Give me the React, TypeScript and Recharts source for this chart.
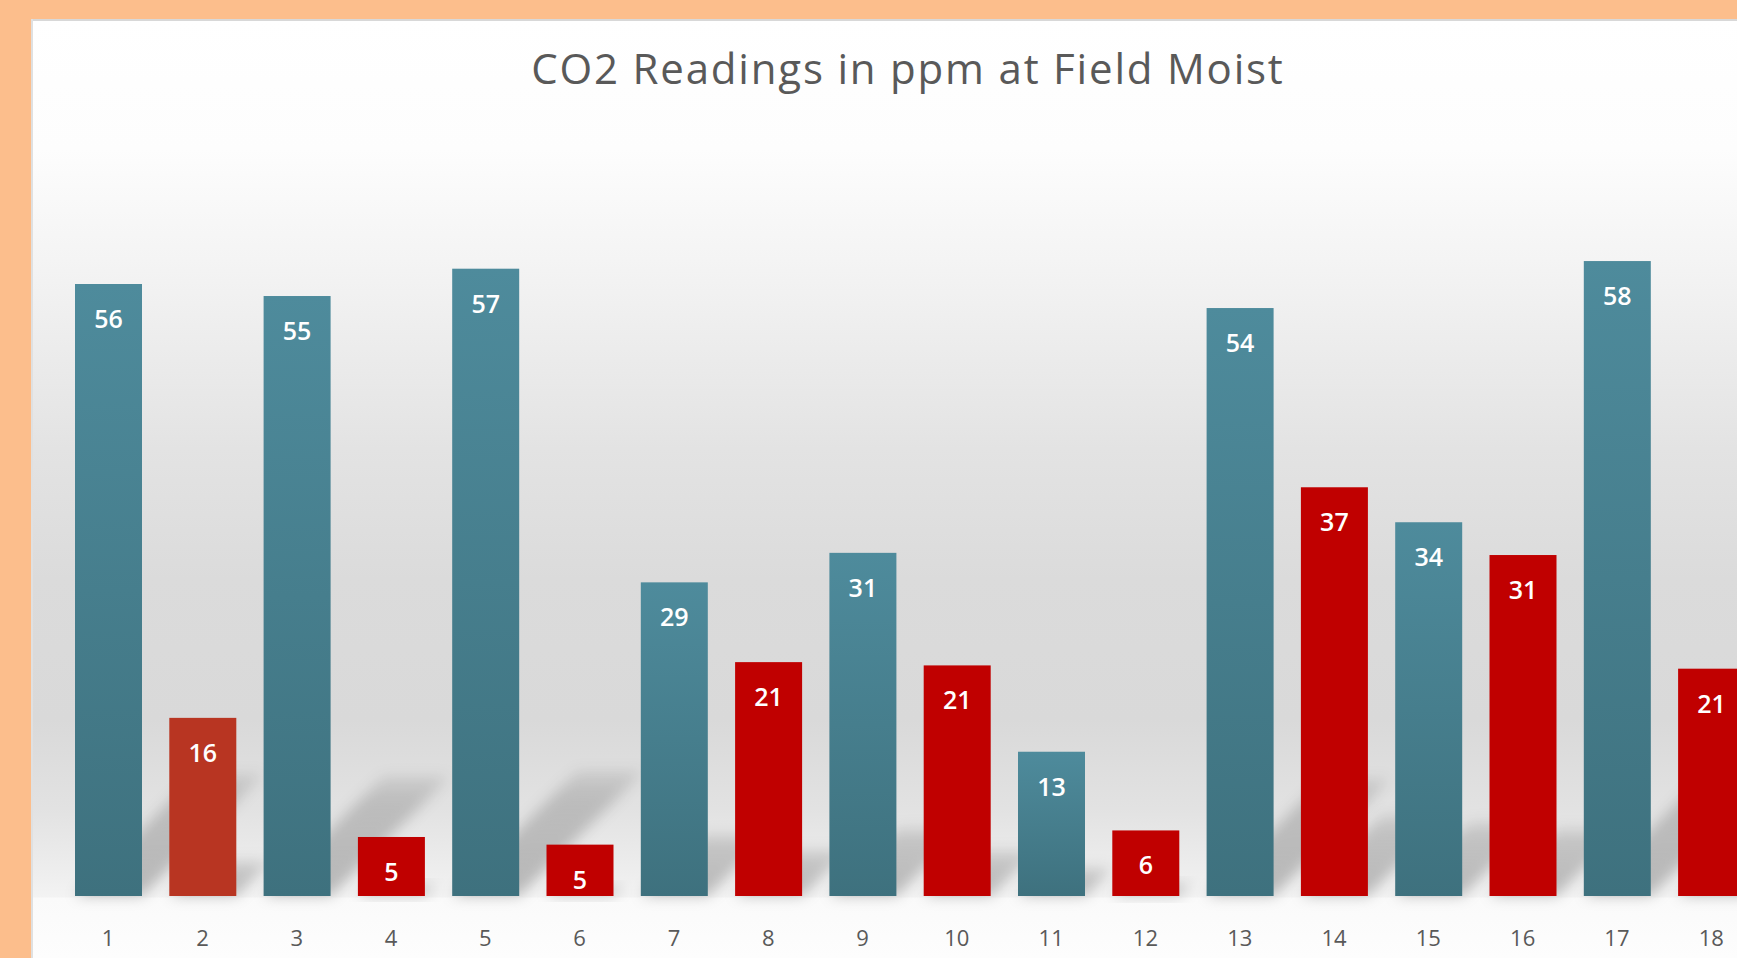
import React from 'react';
import { BarChart, Bar, XAxis, YAxis, LabelList } from 'recharts';

const categories = ['1', '2', '3', '4', '5', '6', '7', '8', '9', '10', '11', '12', '13', '14', '15', '16', '17', '18'];
const co2Values = [56.0, 16.3, 54.9, 5.4, 57.4, 4.7, 28.7, 21.4, 31.4, 21.1, 13.2, 6.0, 53.8, 37.4, 34.2, 31.2, 58.1, 20.8];
const barKinds = ['teal', 'rust', 'teal', 'red', 'teal', 'red', 'teal', 'red', 'teal', 'red', 'teal', 'red', 'teal', 'red', 'teal', 'red', 'teal', 'red'];
const titleText = 'CO2 Readings in ppm at Field Moist';

const data = categories.map((c, i) => ({ name: c, value: co2Values[i], kind: barKinds[i] }));

const FONT = '"Open Sans", "Noto Sans", sans-serif';

const BarShape = (props: any) => {
  const { x, y, width, height, index, payload } = props;
  const kind = payload.kind;
  const d = height * 0.2;
  const base = y + height;
  const gid = `barGrad${index}`;
  const sid = `shadowGrad${index}`;
  const fid = `shadowBlur${index}`;
  const fill = kind === 'teal' ? `url(#${gid})` : kind === 'rust' ? '#b83522' : '#c00000';
  return (
    <g>
      <defs>
        <linearGradient id={gid} x1="0" y1="0" x2="0" y2="1">
          <stop offset="0" stopColor="#4e8b9c" />
          <stop offset="1" stopColor="#3e717e" />
        </linearGradient>
        <linearGradient id={sid} x1="0" y1="1" x2="0" y2="0">
          <stop offset="0" stopColor="#000" stopOpacity={0.24} />
          <stop offset="0.8" stopColor="#000" stopOpacity={0.16} />
          <stop offset="1" stopColor="#000" stopOpacity={0.08} />
        </linearGradient>
        <filter id={fid} x="-50%" y="-50%" width="200%" height="200%">
          <feGaussianBlur stdDeviation="7" />
        </filter>
      </defs>
      <polygon
        points={`${x},${base} ${x + width},${base} ${x + width + d},${base - d} ${x + d},${base - d}`}
        fill={`url(#${sid})`}
        filter={`url(#${fid})`}
      />
      <rect x={x} y={y} width={width} height={height} fill={fill} />
    </g>
  );
};

const ValueLabel = (props: any) => {
  const { x, y, width, value } = props;
  return (
    <text
      x={x + width / 2}
      y={y + 34}
      fill="#ffffff"
      fontSize={25}
      fontWeight={600}
      textAnchor="middle"
      dominantBaseline="central"
      fontFamily={FONT}
    >
      {Math.round(value)}
    </text>
  );
};

const panelBg =
  'linear-gradient(to bottom, #ffffff 0px, #fdfdfd 130px, #f4f4f4 240px, #e3e3e3 430px, #dbdbdb 560px, #d9d9d9 700px, #e2e2e2 790px, #efefef 860px, #f3f3f3 878px, #fafafa 879px, #fdfdfd 939px)';

export default function App() {
  return (
    <div style={{ position: 'absolute', left: 0, top: 0, width: 1737, height: 958, overflow: 'hidden', background: '#fcbe8c' }}>
      <div style={{ position: 'absolute', left: 31, top: 19, width: 1800, height: 1000, background: panelBg }}>
        <div style={{ position: 'absolute', left: 0, top: 0, width: 1800, height: 2, background: '#d8d8d8' }} />
        <div style={{ position: 'absolute', left: 0, top: 0, width: 2, height: 1000, background: '#e0e0e0' }} />
        <div
          style={{
            position: 'absolute',
            left: 0,
            top: 28,
            width: 1754,
            textAlign: 'center',
            fontFamily: FONT,
            fontSize: 42,
            letterSpacing: 1.8,
            lineHeight: 1,
            color: '#595959',
          }}
        >
          {titleText}
        </div>
        <div style={{ position: 'absolute', left: 0, top: 0 }}>
          <BarChart width={1760} height={939} data={data} margin={{ top: 112, right: 32.6, bottom: 12, left: 30 }}>
            <XAxis
              dataKey="name"
              axisLine={false}
              tickLine={false}
              interval={0}
              height={50}
              dy={26}
              tick={{ fill: '#595959', fontSize: 22, fontFamily: FONT }}
            />
            <YAxis hide domain={[0, 70]} />
            <Bar dataKey="value" barSize={67} shape={BarShape} isAnimationActive={false}>
              <LabelList dataKey="value" content={ValueLabel} />
            </Bar>
          </BarChart>
        </div>
      </div>
    </div>
  );
}
